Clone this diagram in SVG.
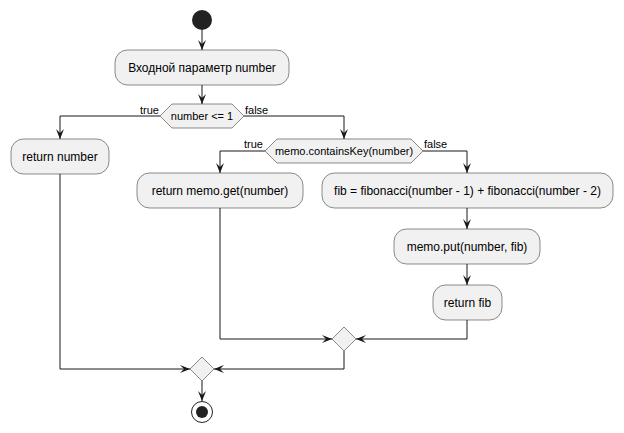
<svg xmlns="http://www.w3.org/2000/svg" width="624" height="433" viewBox="0 0 624 433">
<style>
.box{fill:#F1F1F1;stroke:#181818;stroke-width:0.5}
.t{font-family:"Liberation Sans",Arial,sans-serif;font-size:12px;fill:#000;text-anchor:middle}
.d{font-family:"Liberation Sans",Arial,sans-serif;font-size:11px;fill:#000;text-anchor:middle}
.lbl{font-family:"Liberation Sans",Arial,sans-serif;font-size:11px;fill:#000}
.c{fill:none;stroke:#181818;stroke-width:1;marker-end:url(#arr)}
</style>
<defs>
<marker id="arr" markerUnits="userSpaceOnUse" markerWidth="10" markerHeight="8" refX="10" refY="4" orient="auto">
<path d="M0,0 L10,4 L0,8 L4,4 Z" fill="#181818"/>
</marker>
</defs>
<rect width="624" height="433" fill="#FFFFFF"/>
<g id="connectors">
<path class="c" d="M202,30 L202,50"/>
<path class="c" d="M202,85 L202,104"/>
<path class="c" d="M160,116 L60,116 L60,139"/>
<path class="c" d="M244,116 L344,116 L344,139"/>
<path class="c" d="M265,151 L220,151 L220,173"/>
<path class="c" d="M423,151 L467,151 L467,173"/>
<path class="c" d="M467,208 L467,229"/>
<path class="c" d="M467,264 L467,285"/>
<path class="c" d="M220,208 L220,339 L332,339"/>
<path class="c" d="M467,320 L467,339 L356,339"/>
<path class="c" d="M60,174 L60,369 L190,369"/>
<path class="c" d="M344,351 L344,369 L214,369"/>
<path class="c" d="M202,381 L202,401"/>
<text class="lbl" x="159" y="114" text-anchor="end">true</text>
<text class="lbl" x="245" y="114">false</text>
<text class="lbl" x="263" y="148" text-anchor="end">true</text>
<text class="lbl" x="424" y="148">false</text>
</g>
<g id="start"><circle cx="202" cy="20" r="10" fill="#222222"/></g>
<g id="input"><rect class="box" x="115" y="50" width="174" height="35" rx="12.5"/><text class="t" x="202" y="71.5">Входной параметр number</text></g>
<g id="if1"><polygon class="box" points="160,116 172,104 232,104 244,116 232,128 172,128"/><text class="d" x="202" y="120">number &lt;= 1</text></g>
<g id="retNumber"><rect class="box" x="11" y="139" width="98" height="35" rx="12.5"/><text class="t" x="60" y="160.5">return number</text></g>
<g id="if2"><polygon class="box" points="265,151 277,139 411,139 423,151 411,163 277,163"/><text class="d" x="344" y="155">memo.containsKey(number)</text></g>
<g id="retMemo"><rect class="box" x="137" y="173" width="166" height="35" rx="12.5"/><text class="t" x="220" y="194.5">return memo.get(number)</text></g>
<g id="fib"><rect class="box" x="322" y="173" width="291" height="35" rx="12.5"/><text class="t" x="467.5" y="194.5">fib = fibonacci(number - 1) + fibonacci(number - 2)</text></g>
<g id="put"><rect class="box" x="394" y="229" width="146" height="35" rx="12.5"/><text class="t" x="467" y="250.5">memo.put(number, fib)</text></g>
<g id="retFib"><rect class="box" x="433" y="285" width="69" height="35" rx="12.5"/><text class="t" x="467.5" y="306.5">return fib</text></g>
<g id="merge1"><polygon class="box" points="344,327 356,339 344,351 332,339"/></g>
<g id="merge2"><polygon class="box" points="202,357 214,369 202,381 190,369"/></g>
<g id="end"><circle cx="202" cy="412" r="10.5" fill="none" stroke="#222222" stroke-width="1"/><circle cx="202" cy="412" r="6" fill="#222222"/></g>
</svg>
